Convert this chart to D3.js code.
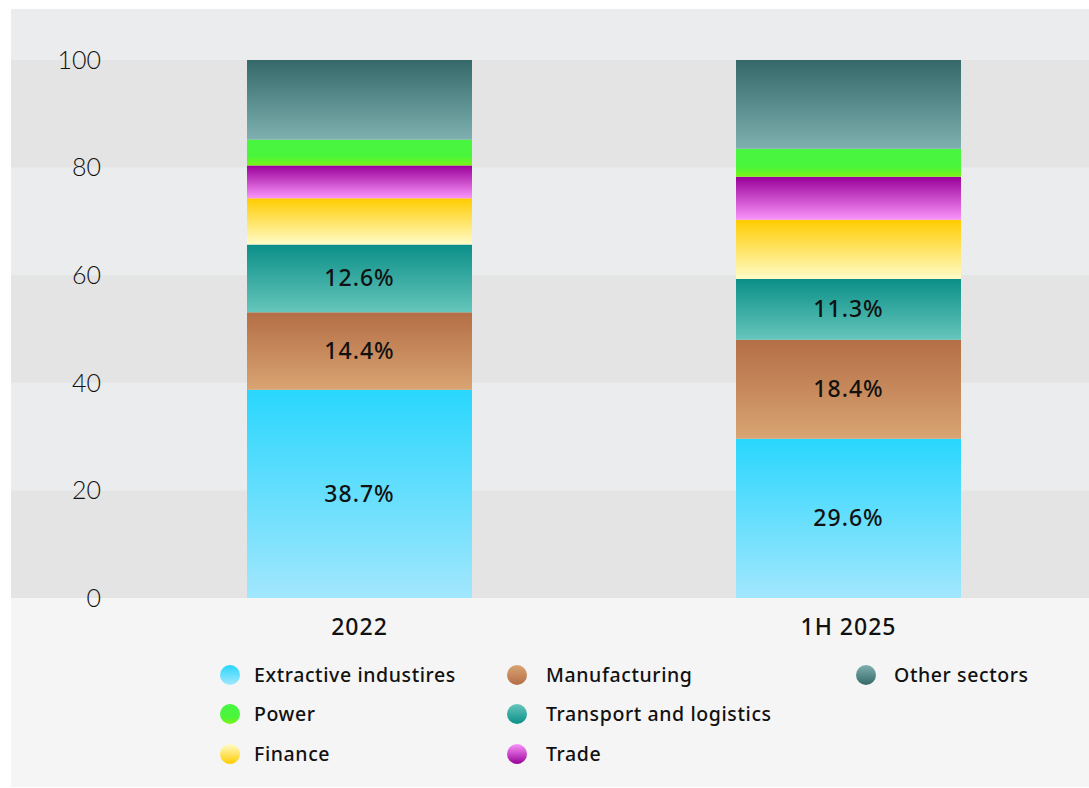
<!DOCTYPE html>
<html>
<head>
<meta charset="utf-8">
<script src="https://cdnjs.cloudflare.com/ajax/libs/d3/7.8.5/d3.min.js"></script>
<style>
  html, body { margin: 0; padding: 0; background: #fff; }
  svg { display: block; font-family: "Noto Sans", Lato, sans-serif; }
</style>
</head>
<body>
<svg id="chart" width="1089" height="788"></svg>
<script>
// data (shares, %)
var periods = ['2022', '1H 2025'];
var sectors = ['Extractive industires', 'Manufacturing', 'Transport and logistics', 'Finance', 'Trade', 'Power', 'Other sectors'];
var extractive = [38.7, 29.6];
var manufacturing = [14.4, 18.4];
var transport = [12.6, 11.3];
var finance = [8.6, 11.0];
var trade = [6.1, 8.0];
var power = [4.8, 5.2];
var other = [14.8, 16.5];
var yTicks = [0, 20, 40, 60, 80, 100];
var labelled = ['Extractive industires', 'Manufacturing', 'Transport and logistics'];

// gradient stops, top to bottom
var colours = {
	'Extractive industires': ['#29d6fd', '#a2e7fd'],
	'Manufacturing': ['#b46e46', '#d9a472'],
	'Transport and logistics': ['#0a8f87', '#66c6bc'],
	'Finance': ['#ffcc00', '#fffcc8'],
	'Trade': ['#990099', '#fa94fa'],
	'Power': ['#48f540', '#4af53c', '#7af512'],
	'Other sectors': ['#356969', '#7db0af']
};
// legend dots whose gradient runs the same way as the bars
var dotSameWay = ['Extractive industires', 'Power'];

var seriesValues = [extractive, manufacturing, transport, finance, trade, power, other];
var rows = periods.map(function(p, i) {
	var r = { period: p };
	sectors.forEach(function(s, k) { r[s] = seriesValues[k][i]; });
	return r;
});

var svg = d3.select('#chart');
var defs = svg.append('defs');

sectors.forEach(function(s, k) {
	var c = colours[s];
	var offs = c.length === 3 ? [0, 0.65, 1] : [0, 1];
	var g = defs.append('linearGradient').attr('id', 'g' + k)
		.attr('x1', 0).attr('y1', 0).attr('x2', 0).attr('y2', 1);
	c.forEach(function(col, j) { g.append('stop').attr('offset', offs[j]).attr('stop-color', col); });
	var gl = defs.append('linearGradient').attr('id', 'l' + k)
		.attr('x1', 0).attr('y1', 1).attr('x2', 0).attr('y2', 0);
	c.forEach(function(col, j) { gl.append('stop').attr('offset', offs[j]).attr('stop-color', col); });
});

var plotLeft = 11, plotRight = 1089, plotTop = 9, plotBottom = 787;
var y = d3.scaleLinear().domain([0, 100]).range([598, 60]);
var x = d3.scaleBand().domain(periods).range([115, 1093]);
var barW = 225;

// backgrounds
svg.append('rect').attr('x', plotLeft).attr('y', plotTop).attr('width', plotRight - plotLeft).attr('height', y(0) - plotTop).attr('fill', '#ebecee');
svg.append('rect').attr('x', plotLeft).attr('y', y(0)).attr('width', plotRight - plotLeft).attr('height', plotBottom - y(0)).attr('fill', '#f5f5f5');
svg.append('g').selectAll('rect').data([0, 40, 80]).join('rect')
	.attr('x', plotLeft).attr('width', plotRight - plotLeft)
	.attr('y', function(d) { return y(d + 20); })
	.attr('height', function(d) { return y(d) - y(d + 20); })
	.attr('fill', '#e4e4e4');

// y axis labels
svg.append('g').selectAll('text').data(yTicks).join('text')
	.attr('x', 101).attr('y', function(d) { return y(d); })
	.attr('dy', '0.35em')
	.attr('text-anchor', 'end')
	.attr('font-family', 'Lato, sans-serif')
	.attr('font-size', 25).attr('font-weight', 300).attr('fill', '#111')
	.text(function(d) { return d; });

// stacked bars
var stacked = d3.stack().keys(sectors)(rows);
var layers = svg.append('g').selectAll('g').data(stacked).join('g')
	.attr('fill', function(d, k) { return 'url(#g' + k + ')'; });

layers.selectAll('rect').data(function(d) { return d; }).join('rect')
	.attr('x', function(d) { return x(d.data.period) + x.bandwidth() / 2 - barW / 2; })
	.attr('width', barW)
	.attr('y', function(d) { return y(d[1]); })
	.attr('height', function(d) { return y(d[0]) - y(d[1]); });

// value labels
stacked.filter(function(l) { return labelled.indexOf(l.key) >= 0; }).forEach(function(l) {
	svg.append('g').selectAll('text').data(l).join('text')
		.attr('x', function(d) { return x(d.data.period) + x.bandwidth() / 2; })
		.attr('y', function(d) { return y((d[0] + d[1]) / 2); })
		.attr('dy', '0.35em')
		.attr('text-anchor', 'middle')
		.attr('font-size', 23).attr('font-weight', 500).attr('letter-spacing', 1).attr('fill', '#111')
		.text(function(d) { return (d[1] - d[0]).toFixed(1) + '%'; });
});

// x axis labels
svg.append('g').selectAll('text').data(periods).join('text')
	.attr('x', function(d) { return x(d) + x.bandwidth() / 2; })
	.attr('y', 627).attr('dy', '0.35em')
	.attr('text-anchor', 'middle')
	.attr('font-size', 23).attr('font-weight', 500).attr('letter-spacing', 1).attr('fill', '#111')
	.text(function(d) { return d; });

// legend
var legendItems = [
	{ name: 'Extractive industires', col: 0, row: 0 },
	{ name: 'Power', col: 0, row: 1 },
	{ name: 'Finance', col: 0, row: 2 },
	{ name: 'Manufacturing', col: 1, row: 0 },
	{ name: 'Transport and logistics', col: 1, row: 1 },
	{ name: 'Trade', col: 1, row: 2 },
	{ name: 'Other sectors', col: 2, row: 0 }
];
var dotX = [230, 517, 866];
var textX = [254, 546, 894];
var rowY = [675, 714, 754];

var leg = svg.append('g').selectAll('g').data(legendItems).join('g');
leg.append('circle').attr('r', 10)
	.attr('cx', function(d) { return dotX[d.col]; })
	.attr('cy', function(d) { return rowY[d.row]; })
	.attr('fill', function(d) {
		var k = sectors.indexOf(d.name);
		return 'url(#' + (dotSameWay.indexOf(d.name) >= 0 ? 'g' : 'l') + k + ')';
	});
leg.append('text')
	.attr('x', function(d) { return textX[d.col]; })
	.attr('y', function(d) { return rowY[d.row]; })
	.attr('dy', '0.35em')
	.attr('font-size', 19.5).attr('font-weight', 500).attr('letter-spacing', 0.6).attr('fill', '#111')
	.text(function(d) { return d.name; });
</script>
</body>
</html>
